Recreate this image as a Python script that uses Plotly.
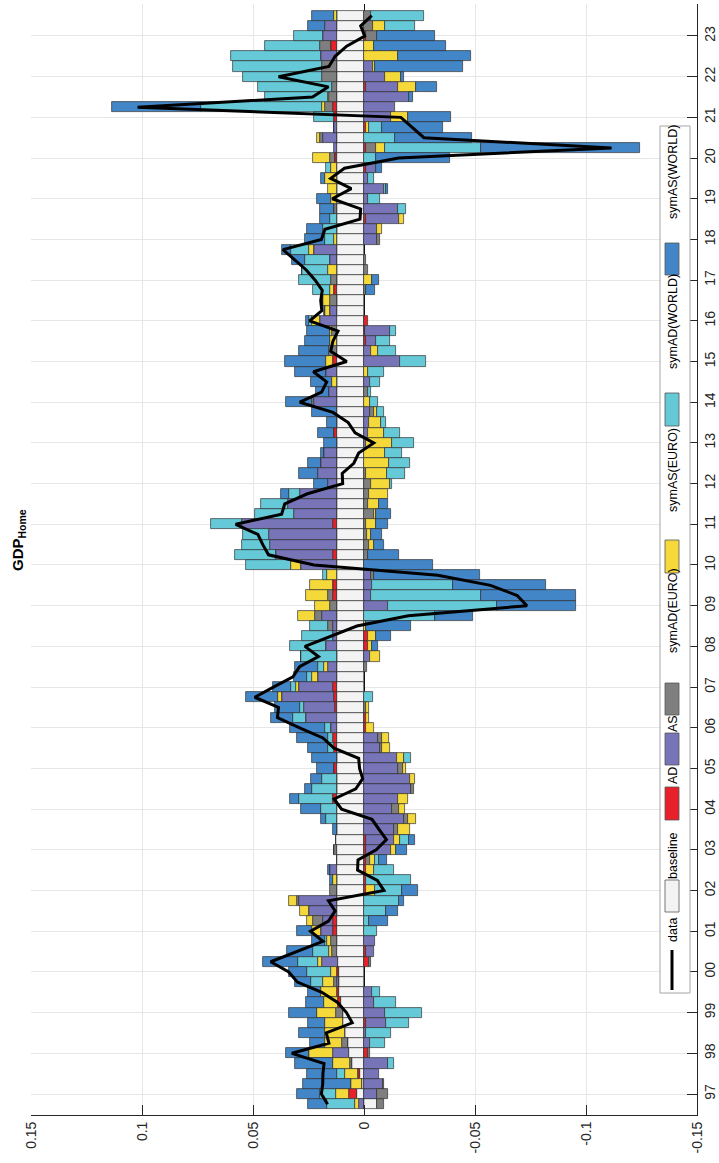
import plotly.graph_objects as go

# ---------------- data (quarters 1996Q4 .. 2023Q3) ----------------
quarters = [f"{1996 + (i + 3) // 4}Q{(i + 3) % 4 + 1}" for i in range(108)]

baseline = [-0.006, 0.0033, 0.001, 0.0018, 0.0054, 0.0067, 0.0073, 0.0086, 0.0094, 0.0094,
            0.0103, 0.0111, 0.0111, 0.0111, 0.0119, 0.0122, 0.0122, 0.0122, 0.0122, 0.0122,
            0.0122, 0.0122, 0.0122, 0.0122, 0.0122, 0.0122, 0.0127, 0.0122, 0.0122, 0.0122,
            0.0122, 0.0122, 0.0122, 0.0122, 0.0122, 0.0122, 0.0122, 0.0122, 0.0122, 0.0122,
            0.0122, 0.0122, 0.0122, 0.0122, 0.0122, 0.0122, 0.0122, 0.0122, 0.0122, 0.0122,
            0.0122, 0.0122, 0.0122, 0.0122, 0.0122, 0.0122, 0.0122, 0.0122, 0.0122, 0.0122,
            0.0122, 0.0122, 0.0122, 0.0122, 0.0122, 0.0122, 0.0122, 0.0122, 0.0122, 0.0122,
            0.0122, 0.0122, 0.0122, 0.0122, 0.0122, 0.0122, 0.0122, 0.0122, 0.0122, 0.0122,
            0.0122, 0.0122, 0.0122, 0.0122, 0.0122, 0.0122, 0.0122, 0.0122, 0.0122, 0.0122,
            0.0122, 0.0122, 0.0122, 0.0122, 0.0122, 0.0122, 0.0122, 0.0122, 0.0122, 0.0122,
            0.0122, 0.0122, 0.0122, 0.0122, 0.0122, 0.0122, 0.0122, 0.0122]

AD = [0, 0.0033, 0, 0.0007, 0, -0.002, 0, 0, -0.0007, 0,
      0.0016, 0.0011, 0, 0.0011, -0.0023, -0.0011, 0, 0.0018, 0.0018, 0,
      0, -0.0011, -0.0008, -0.0007, -0.0007, -0.0007, -0.0007, 0, 0, 0,
      0.0016, 0, 0, 0.0013, 0, 0.0013, 0.0016, -0.0007, -0.0007, 0.001,
      0.0013, 0.0018, 0, 0, 0, -0.002, -0.0016, 0, 0, 0,
      0.0018, 0.0018, 0, 0, 0.0016, 0, 0, 0.0016, 0, 0,
      0, 0, 0, 0, 0, 0, 0.0013, 0, 0, 0,
      0, 0, 0, 0.0016, 0, -0.0008, -0.0005, -0.0016, 0, 0,
      0.0013, 0, 0, 0, 0, 0, 0, -0.0008, 0, 0,
      0, 0, -0.0008, 0.0008, -0.0008, 0, -0.0008, 0.0013, 0.0016, 0,
      -0.0008, 0, 0, 0, 0.0026, -0.0008, 0, 0]

AS = [0.0024, -0.0057, -0.0085, -0.0068, -0.0106, 0.0072, -0.0028, -0.0011, -0.009, -0.0096,
      -0.0044, -0.0036, 0.0011, 0, 0.0068, -0.0036, -0.0049, 0.0052, 0.0044, 0.0127,
      0.0171, 0, 0, 0.0029, 0, -0.0116, -0.0127, -0.0137, -0.0178, -0.0125,
      -0.0155, -0.0212, -0.0207, -0.0155, -0.0147, -0.0072, -0.0065, 0.0026, 0.014, 0.0137,
      0.0233, 0.0155, 0.0083, 0.0042, -0.0028, 0.005, 0.0018, 0.0016, 0.0065, -0.0106,
      -0.0033, -0.0036, -0.0033, 0.016, 0.0257, 0.0301, 0.0306, 0.0412, 0.0192, 0.022,
      0.0168, 0.0041, 0.0086, 0.0073, 0.0059, -0.0011, -0.002, -0.0023, -0.0028, 0.0103,
      0.0037, -0.0028, 0.005, -0.0161, -0.0033, -0.0047, -0.0112, 0.0078, 0.0029, 0,
      0, 0, 0, 0.0033, 0.0103, -0.006, -0.006, -0.015, -0.0155, -0.002,
      -0.0088, -0.002, -0.0047, 0, 0.0013, 0.0062, 0.0013, -0.0122, -0.0138, -0.0204,
      -0.0147, -0.0093, -0.0039, 0.007, 0, 0.0062, 0.0054, 0]

symAD_EURO = [-0.0029, -0.0052, -0.0005, 0, 0.0008, -0.0008, 0.0026, 0, 0, 0.0033,
              0, 0, 0.0013, 0, -0.0008, 0.0021, 0.0026, 0, 0.0046, 0,
              0.0008, 0.0033, 0, 0, -0.0021, 0.0013, 0, -0.0016, -0.0018, -0.0033,
              0, -0.0015, 0, -0.002, 0, -0.001, -0.0015, 0, 0, -0.0007,
              0, 0, 0, -0.0015, 0, 0, 0, 0.0026, 0.0034, 0.0029,
              0.0023, 0, -0.0011, 0, -0.0016, -0.0023, -0.0015, -0.0008, -0.0044, -0.002,
              -0.0023, -0.0033, -0.0007, 0, 0, 0, 0, 0, -0.0016, 0.0008,
              -0.002, 0, 0, 0, 0.0037, 0, 0.0024, 0, 0, 0.0033,
              -0.0008, 0.0026, -0.002, -0.0008, 0, -0.0011, 0, 0, 0.0013, 0,
              0, 0, 0, 0.0024, -0.0044, 0.0016, 0, 0, 0.0037, 0.0034,
              0.0021, 0.0065, 0.0065, 0, 0.0052, -0.0052, -0.0041, -0.0033]

symAS_EURO = [0.0016, 0.006, 0.0047, 0.0062, 0.0078, 0.0107, 0.0077, 0.009, 0.0081, 0.0086,
              0.0062, 0.007, 0.0049, 0.0026, 0.0018, 0.0016, 0.002, 0.0041, 0.0028, 0.0041,
              0.0037, -0.0037, 0.0016, -0.0037, -0.0021, -0.002, -0.0028, -0.0054, -0.0036, -0.0028,
              -0.0044, 0, -0.0024, -0.0016, -0.0031, -0.0036, -0.0034, -0.0037, -0.0016, -0.0016,
              0.002, 0.0011, 0.0028, 0.0015, -0.0046, -0.0016, -0.0036, -0.0011, 0.0077, 0.0068,
              0.0098, 0.0104, 0.0046, 0.0046, 0, -0.0021, -0.0016, -0.0044, -0.0008, -0.0049,
              -0.0083, -0.0085, -0.0098, -0.0114, -0.0093, -0.0114, -0.0068, -0.0054, -0.0016, -0.0028,
              0, 0.0021, -0.002, 0.0034, -0.0028, 0.0029, 0.0008, 0.0033, 0.0024, 0.0029,
              0.0016, -0.0036, 0.0042, 0, 0.0024, 0.0013, -0.002, -0.002, 0, 0.0026,
              0.0041, 0.0054, 0.0026, 0.0078, -0.0041, 0.0013, -0.0015, -0.0077, 0.0016, 0.0008,
              -0.0077, -0.0073, -0.001, -0.0153, -0.0047, 0, -0.0052, 0.0013]

symAD_WORLD = [0.0127, 0.0073, 0, 0.0033, -0.0028, 0, -0.0065, -0.0111, -0.0106, -0.0163,
               -0.0098, -0.0037, 0.0057, 0.0109, 0.0093, 0.0073, 0.0008, -0.006, -0.0023, -0.0101,
               -0.0158, -0.0125, -0.0204, -0.009, -0.002, 0, -0.0042, 0, 0.005, 0.0073,
               0.0155, 0.0114, 0.0067, 0, -0.0034, 0.0028, 0.0024, 0.0028, 0.006, 0.0021,
               -0.0041, 0.0024, 0.0024, 0.0029, 0.0164, 0.0161, 0.0138, 0.0081, -0.0321, -0.0492,
               -0.0492, -0.0366, 0.0016, 0.0204, 0.0187, 0.0127, 0.0119, 0.0138, 0.0179, 0.0122,
               0.0046, -0.0008, -0.0081, -0.0093, -0.0077, -0.0098, -0.0073, -0.002, -0.0028, -0.0037,
               -0.0013, -0.0046, -0.0068, -0.0119, -0.0081, -0.0062, -0.0028, 0.0016, 0, 0,
               0.0081, 0.0145, 0.0117, 0.0111, 0.0081, 0.0041, 0.0062, 0.0033, -0.0036, -0.0054,
               -0.0013, -0.0024, 0.0024, -0.0052, -0.0432, -0.0138, -0.0059, 0.009, 0.0542, 0.0283,
               0.0334, 0.036, 0.0401, 0.0407, 0.0248, 0.013, -0.0138, -0.0236]

symAS_WORLD = [0.0085, 0.0101, 0.022, 0.0135, 0.0171, 0.0106, 0.0068, 0.0117, 0.0078, 0.0125,
               0.008, 0.0062, 0.007, 0.0081, 0.0155, 0.0114, 0.006, 0.0068, -0.0083, -0.0052,
               -0.002, -0.007, 0.0016, 0.0011, -0.0033, -0.0049, -0.0024, 0.0016, 0.0023, 0.009,
               0.0041, 0.0029, 0.0049, 0.0078, 0.0114, 0.009, 0.0138, 0.0158, 0.0098, 0.0109,
               0.0143, 0.0081, 0.0057, 0.0103, 0, -0.0029, -0.007, -0.0199, -0.0171, -0.0358,
               -0.0432, -0.042, -0.048, -0.0313, -0.0142, -0.0046, -0.0049, -0.0057, -0.007, -0.0041,
               0.0036, 0.0062, 0.0085, 0.0057, 0.0011, 0.0059, 0.0073, 0.0046, 0.0111, 0.0119,
               0.0057, 0.0098, 0.0138, 0.0186, 0.0135, 0.0114, 0.0103, 0.0011, 0.0005, 0,
               -0.0041, -0.0033, 0, 0.0057, 0.0041, 0.009, 0.0072, 0.0041, 0.0065, 0.0065,
               -0.0008, 0.0016, -0.0024, -0.0334, -0.072, -0.0349, -0.0272, -0.0192, 0.0402, -0.0015,
               -0.0098, -0.0016, -0.0399, -0.0327, -0.0322, -0.0261, 0.0077, 0.0101]

data = [0.0164, 0.0192, 0.0186, 0.0185, 0.018, 0.0325, 0.0158, 0.017, 0.0053, 0.0079,
        0.0119, 0.019, 0.03, 0.0339, 0.042, 0.0303, 0.0185, 0.0241, 0.016, 0.013,
        0.016, -0.009, -0.006, 0.0029, 0.0027, -0.0055, -0.0101, -0.0068, -0.0036, 0.0101,
        0.0135, 0.0037, 0.0006, 0.002, 0.0024, 0.0135, 0.0185, 0.029, 0.039, 0.0385,
        0.0492, 0.0408, 0.032, 0.029, 0.0205, 0.0266, 0.0145, 0.0032, -0.02, -0.0734,
        -0.069, -0.057, -0.0333, 0.0225, 0.043, 0.0456, 0.0478, 0.0578, 0.0371, 0.0357,
        0.0255, 0.0096, 0.0098, 0.0046, 0.0024, -0.0044, 0.004, 0.0071, 0.014, 0.0289,
        0.0191, 0.0168, 0.0228, 0.0078, 0.015, 0.014, 0.0117, 0.0245, 0.019, 0.0195,
        0.0188, 0.022, 0.026, 0.031, 0.0365, 0.0192, 0.0176, 0.0018, 0.0015, 0.0143,
        0.0057, 0.015, 0.0088, -0.0156, -0.1115, -0.027, -0.022, -0.0166, 0.102, 0.0232,
        0.016, 0.0385, 0.0158, 0.013, 0.0078, -0.0003, 0.0015, -0.0035]

years = list(range(1997, 2024))
year_labels = [f"{y % 100:02d}" for y in years]
value_ticks = [0.15, 0.1, 0.05, 0, -0.05, -0.1, -0.15]
value_labels = ["0.15", "0.1", "0.05", "0", "-0.05", "-0.1", "-0.15"]

series = [
    ("baseline", baseline, "#f2f3f2"),
    ("AD", AD, "#e8202a"),
    ("AS", AS, "#7774b8"),
    ("symAD(EURO)", symAD_EURO, "#7f7f7f"),
    ("symAS(EURO)", symAS_EURO, "#f5d93a"),
    ("symAD(WORLD)", symAD_WORLD, "#66c9d8"),
    ("symAS(WORLD)", symAS_WORLD, "#4286c7"),
]

# numeric time positions from the quarter labels
t = [int(q[:4]) + (int(q[-1]) - 1) / 4 for q in quarters]

fig = go.Figure()
for name, vals, col in series:
    fig.add_trace(go.Bar(y=t, x=vals, orientation="h", name=name,
                         marker=dict(color=col, line=dict(color="rgba(45,45,45,0.85)", width=0.8)),
                         showlegend=False))
fig.add_trace(go.Scatter(y=t, x=data, mode="lines", name="data",
                         line=dict(color="black", width=3), showlegend=False))

W, H = 719, 1163
L, R, T, B = 31, 697, 4, 1115
FONT = "Liberation Sans, Arial, Helvetica, sans-serif"

fig.update_layout(
    width=W, height=H,
    margin=dict(l=L, r=W - R, t=T, b=H - B, autoexpand=False),
    barmode="relative", bargap=0,
    plot_bgcolor="white", paper_bgcolor="white",
    font=dict(family=FONT, size=14, color="#262626"),
)
fig.update_xaxes(range=[0.15, -0.15], tickmode="array", tickvals=value_ticks, ticktext=value_labels,
                 tickangle=-90, ticks="inside", ticklen=10, tickcolor="#262626", tickwidth=1,
                 showline=True, linecolor="#262626", linewidth=1,
                 showgrid=True, gridcolor="#e6e6e6", gridwidth=1,
                 zeroline=True, zerolinecolor="#111111", zerolinewidth=1, automargin=False)
fig.update_yaxes(side="right", range=[1996.484, 2023.786], tickmode="array", tickvals=years,
                 ticktext=year_labels, tickangle=-90, ticks="inside", ticklen=10,
                 tickcolor="#262626", tickwidth=1, showline=True, linecolor="#262626", linewidth=1,
                 showgrid=True, gridcolor="#e6e6e6", gridwidth=1, zeroline=False, automargin=False)


def xp(px):
    return (px - L) / (R - L)


def yp(py):
    return (B - py) / (B - T)


shapes = []
annotations = []

# legend box (rotated legend)
shapes.append(dict(type="rect", xref="paper", yref="paper", x0=xp(660), x1=xp(690),
                   y0=yp(993), y1=yp(126), fillcolor="white",
                   line=dict(color="#a6a6a6", width=1), layer="above"))

legend_items = [
    # name, color, swatch y range (top, bottom), text centre y
    ("symAS(WORLD)", "#4286c7", (243, 275), 172),
    ("symAD(WORLD)", "#66c9d8", (393, 426), 322),
    ("symAS(EURO)", "#f5d93a", (540, 573), 470),
    ("symAD(EURO)", "#7f7f7f", (683, 715), 611),
    ("AS", "#7774b8", (733, 765), 724),
    ("AD", "#e8202a", (787, 820), 776),
    ("baseline", "#f2f3f2", (880, 912), 856),
]
for name, col, (y0, y1), ty in legend_items:
    shapes.append(dict(type="rect", xref="paper", yref="paper", x0=xp(665), x1=xp(679),
                       y0=yp(y1), y1=yp(y0), fillcolor=col,
                       line=dict(color="#555555", width=0.8), layer="above"))
    annotations.append(dict(xref="paper", yref="paper", x=xp(673), y=yp(ty), text=name,
                            textangle=-90, showarrow=False, xanchor="center", yanchor="middle",
                            font=dict(family=FONT, size=12.5, color="#000000")))
# data line entry
shapes.append(dict(type="line", xref="paper", yref="paper", x0=xp(672), x1=xp(672),
                   y0=yp(990), y1=yp(950), line=dict(color="black", width=3), layer="above"))
annotations.append(dict(xref="paper", yref="paper", x=xp(673), y=yp(930), text="data",
                        textangle=-90, showarrow=False, xanchor="center", yanchor="middle",
                        font=dict(family=FONT, size=12.5, color="#000000")))

# title (rotated)
annotations.append(dict(xref="paper", yref="paper", x=xp(18), y=yp(540),
                        text="<b>GDP<sub>Home</sub></b>", textangle=-90, showarrow=False,
                        xanchor="center", yanchor="middle",
                        font=dict(family=FONT, size=15, color="#000000")))

fig.update_layout(shapes=shapes, annotations=annotations)
fig.write_html("out.html")
